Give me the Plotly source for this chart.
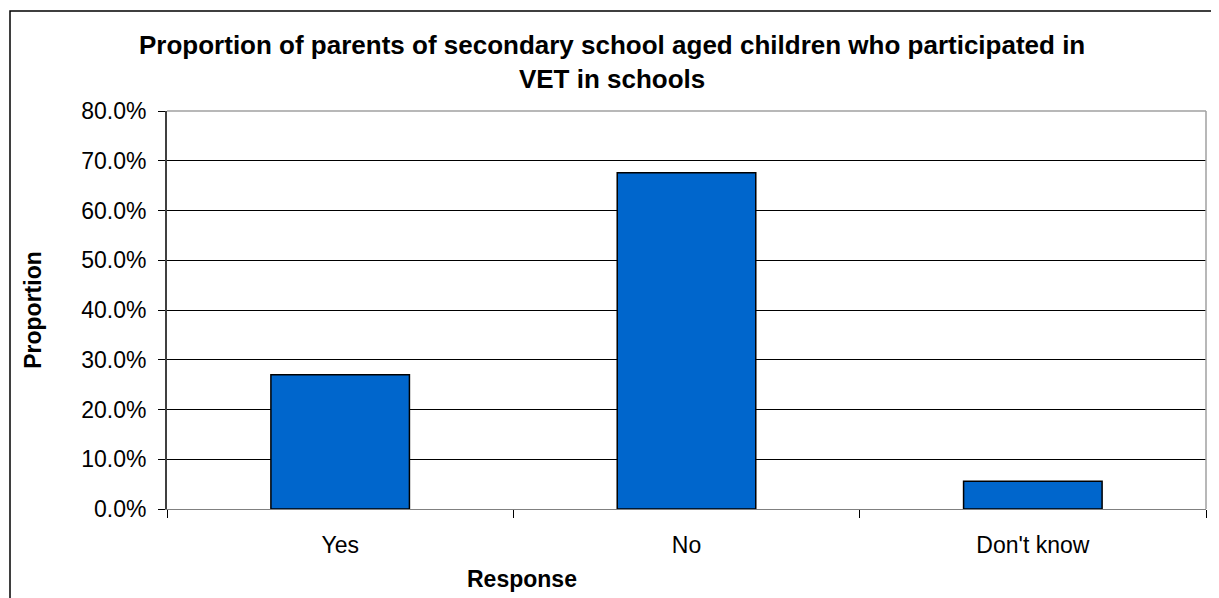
import plotly.graph_objects as go

categories = ["Yes", "No", "Don't know"]
proportions = [0.270, 0.676, 0.056]
y_tick_values = [0, 0.1, 0.2, 0.3, 0.4, 0.5, 0.6, 0.7, 0.8]
y_tick_labels = ["0.0%", "10.0%", "20.0%", "30.0%", "40.0%", "50.0%", "60.0%", "70.0%", "80.0%"]

# page body has an 8px default margin, so the figure is drawn 8px in
OFF = 8
W, H = 1219 - OFF, 598 - OFF
L, T = 167 - OFF, 111 - OFF
R = W - (1206 - OFF)
B = H - (509.4 - OFF)
PW, PH = W - L - R, H - T - B

def px(x):
    return (x - OFF - L) / PW

def py(y):
    return (H - B - (y - OFF)) / PH

FONT = "Liberation Sans, Arial, sans-serif"

fig = go.Figure(
    go.Bar(
        x=categories,
        y=proportions,
        width=0.4,
        marker=dict(color="#0066CC", line=dict(color="black", width=1.5)),
    )
)

fig.update_layout(
    width=W,
    height=H,
    margin=dict(l=L, r=R, t=T, b=B, pad=0),
    paper_bgcolor="white",
    plot_bgcolor="white",
    showlegend=False,
    font=dict(family=FONT, color="black", size=22),
)

fig.update_xaxes(
    type="category",
    tickson="boundaries",
    ticks="outside",
    ticklen=8,
    tickcolor="black",
    showline=True,
    linecolor="#808080",
    linewidth=1,
    showgrid=False,
    tickfont=dict(size=23),
    ticklabelstandoff=15,
)

fig.update_yaxes(
    range=[0, 0.8],
    tickvals=y_tick_values,
    ticktext=y_tick_labels,
    ticks="outside",
    ticklen=7,
    tickcolor="black",
    showline=True,
    linecolor="#404040",
    linewidth=2,
    showgrid=True,
    gridcolor="black",
    gridwidth=1,
    zeroline=False,
    tickfont=dict(size=23),
    ticklabelstandoff=7,
)

# plot area border (top and right) in gray
fig.add_shape(type="line", xref="paper", yref="paper", x0=0, x1=1, y0=1, y1=1,
              line=dict(color="#a0a0a0", width=1.5))
fig.add_shape(type="line", xref="paper", yref="paper", x0=1, x1=1, y0=0, y1=1,
              line=dict(color="#a0a0a0", width=1.5))
# outer chart border
fig.add_shape(type="rect", xref="paper", yref="paper",
              x0=px(10), x1=px(1240), y0=py(11), y1=py(620),
              line=dict(color="black", width=1.5), layer="above")

fig.add_annotation(
    text="<b>Proportion of parents of secondary school aged children who participated in<br>VET in schools</b>",
    xref="paper", yref="paper", x=px(612), y=py(62), xanchor="center", yanchor="middle",
    showarrow=False, font=dict(size=26), align="center",
)
fig.add_annotation(
    text="<b>Proportion</b>", textangle=-90,
    xref="paper", yref="paper", x=px(33), y=py(310), xanchor="center", yanchor="middle",
    showarrow=False, font=dict(size=23),
)
fig.add_annotation(
    text="<b>Response</b>",
    xref="paper", yref="paper", x=px(522), y=py(579), xanchor="center", yanchor="middle",
    showarrow=False, font=dict(size=23),
)

fig.write_html("out.html")
